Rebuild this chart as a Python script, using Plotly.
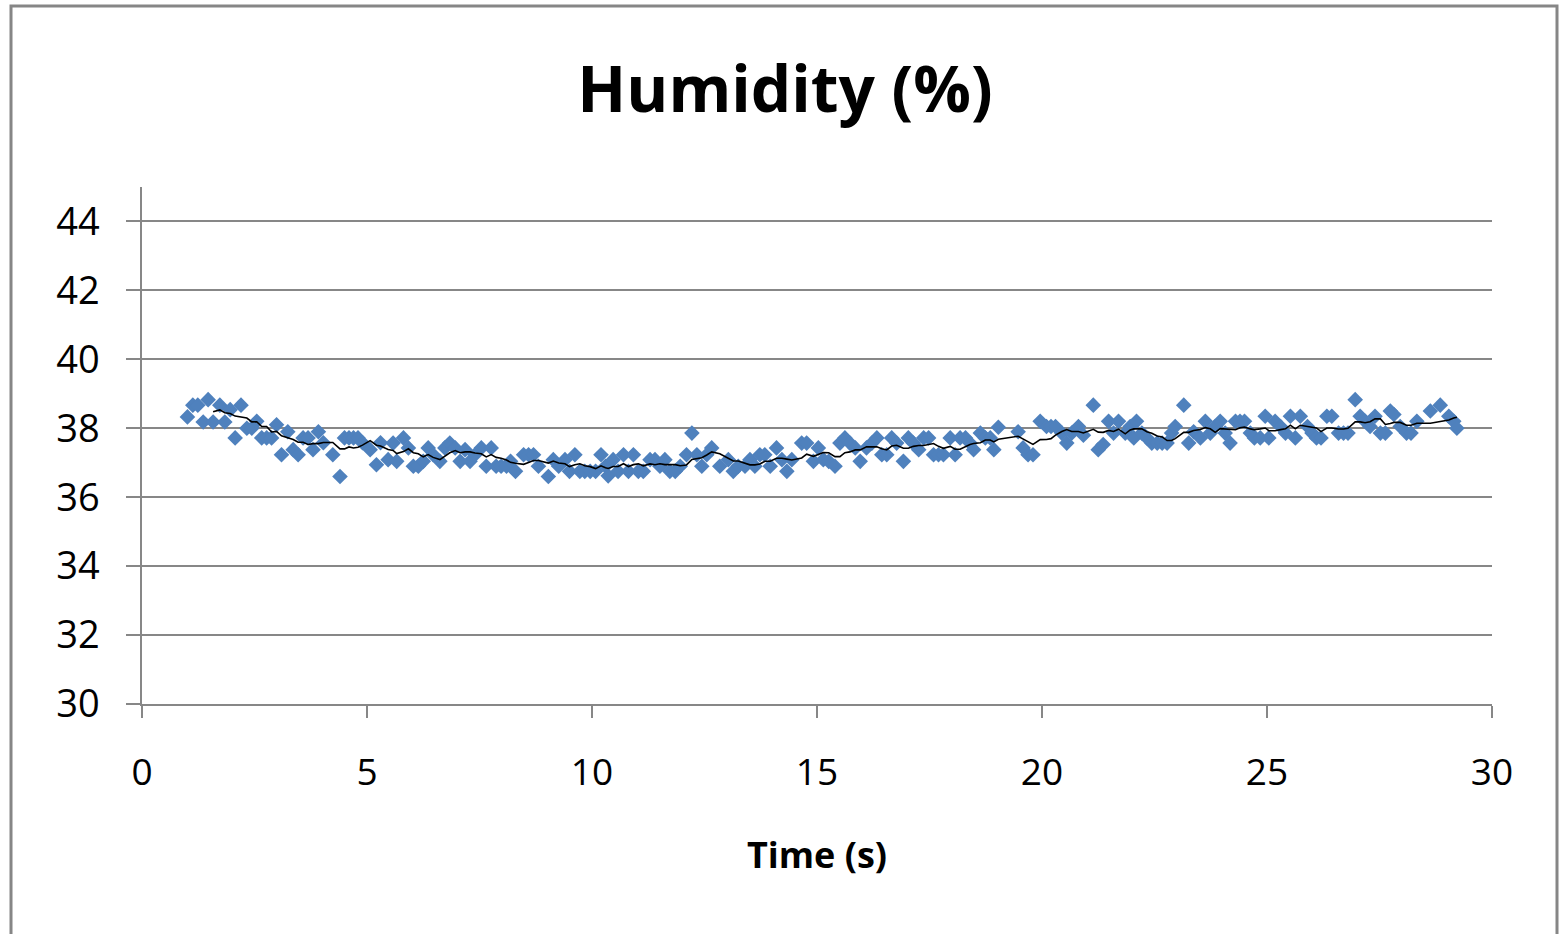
import plotly.graph_objects as go
import pandas as pd

title_text = "Humidity (%)"
x_title = "Time (s)"

time_s = [1.01, 1.13, 1.24, 1.36, 1.47, 1.58, 1.73, 1.84, 1.96, 2.07, 2.20, 2.33, 2.44, 2.55, 2.66, 2.77, 2.88, 2.99,
          3.10, 3.24, 3.36, 3.47, 3.58, 3.69, 3.80, 3.92, 4.03, 4.24, 4.40, 4.50, 4.60, 4.70, 4.80, 4.90, 5.07, 5.21,
          5.30, 5.47, 5.58, 5.66, 5.81, 5.92, 6.03, 6.14, 6.25, 6.36, 6.47, 6.62, 6.73, 6.84, 6.96, 7.07, 7.18, 7.29,
          7.40, 7.54, 7.65, 7.76, 7.87, 7.98, 8.10, 8.19, 8.30, 8.48, 8.59, 8.70, 8.81, 9.03, 9.14, 9.26, 9.40, 9.50,
          9.62, 9.73, 9.84, 9.96, 10.08, 10.20, 10.30, 10.36, 10.47, 10.58, 10.70, 10.81, 10.92, 11.03, 11.14, 11.29,
          11.40, 11.51, 11.62, 11.73, 11.85, 11.96, 12.10, 12.22, 12.33, 12.44, 12.55, 12.66, 12.84, 13.03, 13.14,
          13.25, 13.40, 13.51, 13.62, 13.73, 13.84, 13.96, 14.10, 14.22, 14.33, 14.44, 14.66, 14.77, 14.92, 15.03,
          15.14, 15.26, 15.40, 15.51, 15.62, 15.73, 15.85, 15.96, 16.10, 16.22, 16.33, 16.44, 16.55, 16.66, 16.77,
          16.92, 17.03, 17.14, 17.26, 17.37, 17.48, 17.59, 17.70, 17.81, 17.96, 18.07, 18.18, 18.30, 18.40, 18.48,
          18.63, 18.74, 18.85, 18.93, 19.03, 19.47, 19.58, 19.69, 19.80, 19.96, 20.10, 20.20, 20.30, 20.44, 20.55,
          20.66, 20.81, 20.92, 21.14, 21.25, 21.36, 21.48, 21.59, 21.70, 21.85, 21.96, 22.04, 22.10, 22.22, 22.33,
          22.44, 22.56, 22.67, 22.78, 22.88, 22.96, 23.15, 23.26, 23.37, 23.52, 23.63, 23.74, 23.85, 23.96, 24.07,
          24.18, 24.30, 24.40, 24.50, 24.63, 24.72, 24.85, 24.96, 25.04, 25.18, 25.30, 25.41, 25.52, 25.63, 25.74,
          25.90, 26.00, 26.10, 26.20, 26.33, 26.44, 26.59, 26.70, 26.80, 26.96, 27.07, 27.18, 27.29, 27.40, 27.52,
          27.63, 27.74, 27.82, 27.96, 28.10, 28.20, 28.33, 28.63, 28.85, 29.04, 29.15, 29.22]

humidity = [38.33, 38.67, 38.67, 38.18, 38.83, 38.18, 38.67, 38.18, 38.54, 37.72, 38.67, 38.00, 38.00, 38.20, 37.72,
            37.72, 37.72, 38.10, 37.23, 37.90, 37.38, 37.23, 37.72, 37.72, 37.38, 37.90, 37.58, 37.23, 36.60, 37.72,
            37.72, 37.72, 37.72, 37.58, 37.38, 36.94, 37.58, 37.09, 37.57, 37.04, 37.72, 37.43, 36.90, 36.90, 37.04,
            37.43, 37.23, 37.04, 37.43, 37.57, 37.43, 37.04, 37.38, 37.04, 37.23, 37.43, 36.90, 37.43, 36.90, 36.90,
            36.90, 37.04, 36.75, 37.23, 37.23, 37.23, 36.90, 36.60, 37.09, 36.90, 37.09, 36.75, 37.23, 36.75, 36.75,
            36.75, 36.75, 37.23, 36.90, 36.62, 37.09, 36.75, 37.23, 36.75, 37.23, 36.75, 36.75, 37.09, 37.09, 36.90,
            37.09, 36.75, 36.75, 36.90, 37.23, 37.86, 37.23, 36.90, 37.23, 37.43, 36.90, 37.09, 36.75, 36.90, 36.90,
            37.09, 36.90, 37.23, 37.23, 36.90, 37.43, 37.09, 36.75, 37.09, 37.57, 37.57, 37.04, 37.43, 37.09, 37.04,
            36.90, 37.57, 37.72, 37.57, 37.43, 37.04, 37.43, 37.57, 37.72, 37.23, 37.23, 37.72, 37.57, 37.04, 37.72,
            37.57, 37.38, 37.72, 37.72, 37.23, 37.23, 37.23, 37.72, 37.23, 37.72, 37.72, 37.57, 37.38, 37.86, 37.72,
            37.72, 37.38, 38.03, 37.90, 37.43, 37.23, 37.23, 38.20, 38.05, 38.05, 38.05, 37.86, 37.57, 37.86, 38.05,
            37.80, 38.67, 37.38, 37.53, 38.20, 37.86, 38.20, 37.86, 38.05, 37.72, 38.20, 37.86, 37.72, 37.57, 37.57,
            37.57, 37.57, 37.86, 38.05, 38.67, 37.57, 37.90, 37.72, 38.20, 37.86, 38.05, 38.20, 37.86, 37.57, 38.20,
            38.20, 38.20, 37.86, 37.72, 37.72, 38.35, 37.72, 38.20, 38.05, 37.86, 38.35, 37.72, 38.35, 38.05, 37.86,
            37.72, 37.72, 38.35, 38.35, 37.86, 37.86, 37.86, 38.83, 38.35, 38.20, 38.05, 38.35, 37.86, 37.86, 38.50,
            38.40, 38.05, 37.86, 37.86, 38.20, 38.50, 38.67, 38.35, 38.20, 38.00]

y_ticks = [30, 32, 34, 36, 38, 40, 42, 44]
x_ticks = [0, 5, 10, 15, 20, 25, 30]

ma_period = 6
moving_avg = pd.Series(humidity).rolling(ma_period).mean()

FONT = "Open Sans"
GRID = "#878787"

fig = go.Figure()
fig.add_trace(go.Scatter(
    x=time_s, y=humidity, mode="markers",
    marker=dict(symbol="diamond", size=12, color="#4F81BD", line=dict(width=0)),
    showlegend=False, hoverinfo="x+y"))
fig.add_trace(go.Scatter(
    x=time_s[ma_period - 1:], y=list(moving_avg[ma_period - 1:]), mode="lines",
    line=dict(color="#000000", width=1.6), showlegend=False))

L, R, T, B = 142, 1492, 187, 704
W, H = 1564, 934
pw, ph = R - L, B - T

fig.update_layout(
    width=W, height=H,
    margin=dict(l=L, r=W - R, t=T, b=H - B),
    paper_bgcolor="white", plot_bgcolor="white",
    title=dict(text="<b>" + title_text + "</b>", x=785 / W, xanchor="center",
               y=1 - 90 / H, yanchor="middle",
               font=dict(family=FONT, size=64, color="#000000")),
    font=dict(family=FONT, color="#000000"),
    shapes=[dict(type="rect", xref="paper", yref="paper",
                 x0=(11 - L) / pw, x1=(1557 - L) / pw,
                 y0=(B - 960) / ph, y1=(B - 6) / ph,
                 line=dict(color="#868686", width=3), fillcolor="rgba(0,0,0,0)", layer="below")],
)

fig.update_xaxes(
    range=[0, 30], tickvals=x_ticks, ticktext=[str(v) for v in x_ticks],
    showgrid=False, zeroline=False, showline=True, linecolor=GRID, linewidth=1.5,
    ticks="outside", ticklen=12, tickwidth=1.5, tickcolor=GRID,
    tickfont=dict(family=FONT, size=37, color="#000000"), ticklabelstandoff=23,
    title=dict(text="<b>" + x_title + "</b>", font=dict(family=FONT, size=36, color="#000000"), standoff=48),
)
fig.update_yaxes(
    range=[30, 45], tickvals=y_ticks, ticktext=[str(v) for v in y_ticks],
    showgrid=True, gridcolor=GRID, gridwidth=1.5, zeroline=False,
    showline=True, linecolor=GRID, linewidth=1.5,
    ticks="outside", ticklen=14, tickwidth=1.5, tickcolor=GRID,
    tickfont=dict(family=FONT, size=38, color="#000000"), ticklabelstandoff=19,
)

fig.write_html("out.html", config={"displayModeBar": False},
               post_script="document.body.style.margin='0';document.body.style.overflow='hidden';")
